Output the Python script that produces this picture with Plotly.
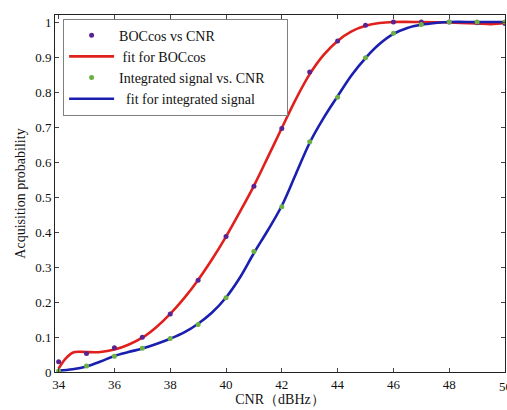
import plotly.graph_objects as go

# measured data points
cnr = [34, 35, 36, 37, 38, 39, 40, 41, 42, 43, 44, 45, 46, 47, 48, 49, 50]
boc_vals = [0.029, 0.053, 0.069, 0.099, 0.166, 0.262, 0.387, 0.531, 0.696, 0.857, 0.946,
            0.991, 1.0, 1.0, 1.0, 0.998, 0.996]
int_vals = [0.003, 0.017, 0.045, 0.068, 0.096, 0.136, 0.212, 0.344, 0.472, 0.658, 0.785,
            0.898, 0.968, 0.993, 1.0, 1.0, 1.0]

# fitted curves
fit_boc_x = [34, 34.25, 34.5, 34.75, 35, 35.5, 36, 36.5, 37, 37.5, 38, 38.5, 39, 39.5, 40,
             40.5, 41, 41.5, 42, 42.5, 43, 43.5, 44, 44.5, 45, 45.5, 46, 47, 48, 49, 49.5, 50]
fit_boc_y = [0.01, 0.038, 0.055, 0.058, 0.057, 0.057, 0.064, 0.078, 0.098, 0.128, 0.166,
             0.211, 0.263, 0.322, 0.387, 0.458, 0.532, 0.614, 0.697, 0.779, 0.851, 0.906,
             0.946, 0.973, 0.989, 0.997, 1.0, 1.0, 0.999, 0.996, 0.994, 0.997]
fit_int_x = [34, 34.5, 35, 35.5, 36, 36.5, 37, 37.5, 38, 38.5, 39, 39.5, 40, 40.5, 41, 41.5,
             42, 42.5, 43, 43.5, 44, 44.5, 45, 45.5, 46, 46.5, 47, 47.5, 48, 49, 50]
fit_int_y = [0.004, 0.008, 0.016, 0.03, 0.046, 0.057, 0.067, 0.08, 0.095, 0.113, 0.138,
             0.17, 0.213, 0.27, 0.34, 0.405, 0.475, 0.565, 0.655, 0.726, 0.788, 0.848,
             0.897, 0.937, 0.966, 0.983, 0.992, 0.997, 1.0, 1.0, 1.0]

xticks = [34, 36, 38, 40, 42, 44, 46, 48, 50]
yticks = [0, 0.1, 0.2, 0.3, 0.4, 0.5, 0.6, 0.7, 0.8, 0.9, 1]
yticklabels = ["0", "0.1", "0.2", "0.3", "0.4", "0.5", "0.6", "0.7", "0.8", "0.9", "1"]

FONT = "Liberation Serif, Times New Roman, serif"
PAD = "\u00a0" * 5

fig = go.Figure()
fig.add_trace(go.Scatter(x=fit_boc_x, y=fit_boc_y, mode="lines", name=" fit for BOCcos",
                         line=dict(color="#e0201c", width=2.6, shape="spline"), legendrank=2))
fig.add_trace(go.Scatter(x=fit_int_x, y=fit_int_y, mode="lines",
                         name="\u00a0\u00a0fit for integrated signal",
                         line=dict(color="#1a1fb0", width=2.6, shape="spline"), legendrank=4))
fig.add_trace(go.Scatter(x=cnr, y=boc_vals, mode="markers", name="BOCcos vs CNR",
                         marker=dict(color="#5a2390", size=5), legendrank=1))
fig.add_trace(go.Scatter(x=cnr, y=int_vals, mode="markers", name="Integrated signal vs. CNR" + PAD,
                         marker=dict(color="#6cb043", size=5), legendrank=3))

# last x tick label sits on the page edge, as in the original
fig.add_annotation(x=xticks[-1], xref="x", y=0, yref="paper", yanchor="top", yshift=-5,
                   text=str(xticks[-1]), showarrow=False, font=dict(family=FONT, size=13, color="#111"))

fig.update_layout(
    width=507, height=410,
    margin=dict(l=55, r=2, t=15, b=38),
    paper_bgcolor="white", plot_bgcolor="white",
    font=dict(family=FONT, size=13, color="#111"),
    showlegend=True,
    legend=dict(x=0.018, y=0.99, xanchor="left", yanchor="top",
                bgcolor="white", bordercolor="#808080", borderwidth=1,
                font=dict(family=FONT, size=14, color="#111"),
                tracegroupgap=0, itemwidth=45),
)
fig.update_xaxes(range=[33.87, 50], tickvals=xticks[:-1] + [xticks[-1]], ticks="inside", ticklen=4,
                 showline=True, linecolor="#222", linewidth=1, mirror="ticks",
                 showgrid=False, zeroline=False,
                 title=dict(text="CNR（dBHz）", standoff=2, font=dict(size=14)))
fig.update_yaxes(range=[0, 1.02], tickvals=yticks, ticktext=yticklabels, ticks="inside",
                 ticklen=4, showline=True, linecolor="#222", linewidth=1, mirror="ticks",
                 showgrid=False, zeroline=False,
                 title=dict(text="Acquisition probability", standoff=6, font=dict(size=14)))

fig.write_html("out.html")
